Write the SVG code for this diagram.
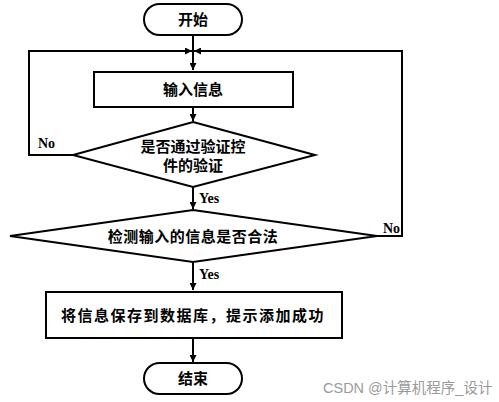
<svg xmlns="http://www.w3.org/2000/svg" width="499" height="402" viewBox="0 0 499 402">
<defs>
<marker id="ah" viewBox="0 0 10 10" refX="10" refY="5" markerWidth="7" markerHeight="7" markerUnits="userSpaceOnUse" orient="auto"><path d="M0,0 L10,5 L0,10 z" fill="#000"/></marker>
<style>
.sh{fill:#fff;stroke:#000;stroke-width:2}
.ln{fill:none;stroke:#000;stroke-width:2}
.t{font-family:"Noto Sans CJK SC","Noto Sans CJK JP",sans-serif;font-weight:bold;font-size:15px;text-anchor:middle;fill:#000}
.l{font-family:"Liberation Serif",serif;font-weight:bold;font-size:14px;fill:#000}
.wm{font-family:"Liberation Sans","Noto Sans CJK SC",sans-serif;font-size:14.5px;fill:#9a9a9a}
</style>
</defs>
<rect width="499" height="402" fill="#fff"/>
<g id="connectors">
<path class="ln" d="M193,35 V70" marker-end="url(#ah)"/>
<path class="ln" d="M193,107 V121" marker-end="url(#ah)"/>
<path class="ln" d="M193,187 V209" marker-end="url(#ah)"/>
<path class="ln" d="M193,262 V290" marker-end="url(#ah)"/>
<path class="ln" d="M193,338 V362" marker-end="url(#ah)"/>
<path class="ln" d="M73,155 H29 V51 H192" marker-end="url(#ah)"/>
<path class="ln" d="M377,236 H402 V51 H194" marker-end="url(#ah)"/>
<text class="l" x="38" y="148">No</text>
<text class="l" x="383" y="233">No</text>
<text class="l" x="199" y="203">Yes</text>
<text class="l" x="199" y="279">Yes</text>
</g>
<g id="start"><rect class="sh" x="144" y="4" width="98" height="31" rx="15.5"/><text class="t" x="193" y="25">开始</text></g>
<g id="input"><rect class="sh" x="94" y="72" width="199" height="35"/><text class="t" x="193" y="95">输入信息</text></g>
<g id="check1"><polygon class="sh" points="193,122 315,155 193,187 73,155"/><text class="t" x="193" y="152">是否通过验证控</text><text class="t" x="193" y="171">件的验证</text></g>
<g id="check2"><polygon class="sh" points="193,210 377,236 193,262 10,236"/><text class="t" x="193" y="242" style="letter-spacing:0.5px">检测输入的信息是否合法</text></g>
<g id="save"><rect class="sh" x="46" y="292" width="296" height="46"/><text class="t" x="193" y="321" style="letter-spacing:1.5px">将信息保存到数据库，提示添加成功</text></g>
<g id="end"><rect class="sh" x="144" y="363" width="98" height="31" rx="15.5"/><text class="t" x="193" y="384">结束</text></g>
<text class="wm" x="323" y="393">CSDN @计算机程序_设计</text>
</svg>
